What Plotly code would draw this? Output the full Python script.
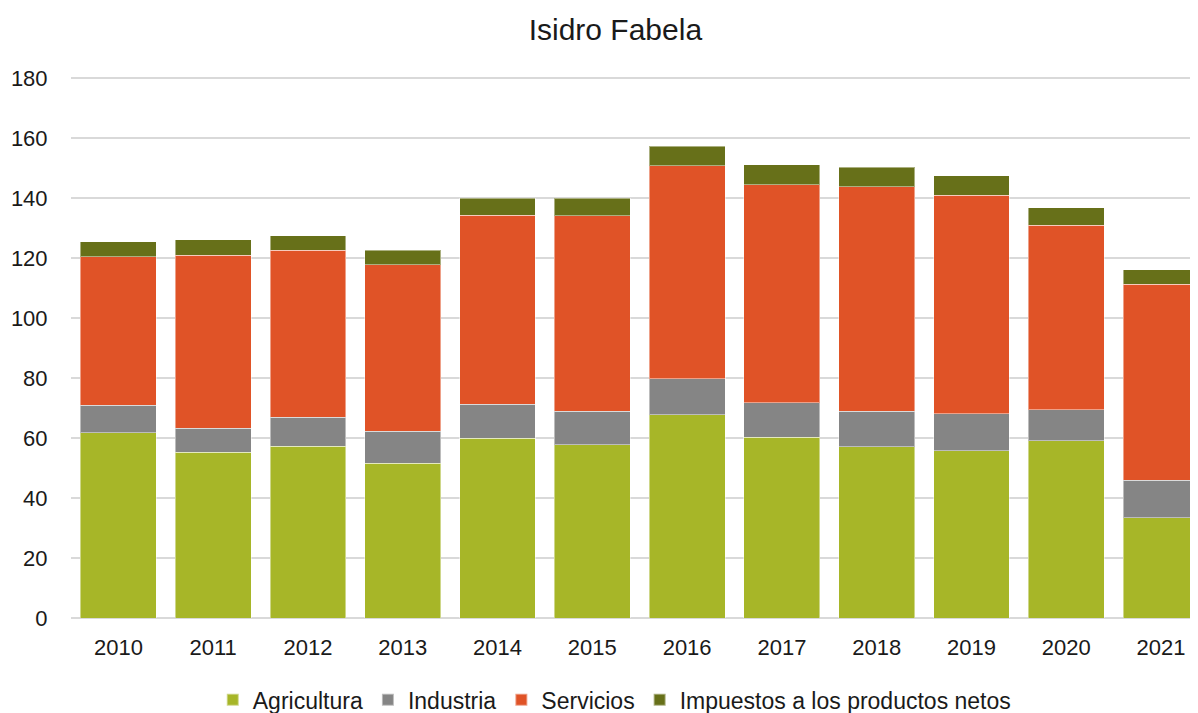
import plotly.graph_objects as go

years = ["2010", "2011", "2012", "2013", "2014", "2015", "2016", "2017", "2018", "2019", "2020", "2021"]
agricultura = [61.7, 55.3, 57.2, 51.6, 59.9, 57.8, 67.7, 60.3, 57.1, 55.8, 59.1, 33.4]
industria = [9.3, 8.0, 9.7, 10.7, 11.4, 11.2, 12.1, 11.5, 11.9, 12.3, 10.3, 12.6]
servicios = [49.5, 57.7, 55.7, 55.4, 63.0, 65.1, 70.9, 72.6, 74.7, 72.9, 61.6, 65.3]
impuestos = [5.0, 5.1, 4.8, 4.9, 5.7, 5.8, 6.6, 6.7, 6.6, 6.4, 5.8, 4.8]

series = [
    ("Agricultura", agricultura, "#A7B628"),
    ("Industria", industria, "#858585"),
    ("Servicios", servicios, "#E05327"),
    ("Impuestos a los productos netos", impuestos, "#677019"),
]

fig = go.Figure()
for name, vals, col in series:
    fig.add_trace(go.Bar(
        x=years, y=vals, name=name,
        marker=dict(color=col, line=dict(color="rgba(255,255,255,0.45)", width=1)),
    ))

font_family = "Liberation Sans, Arial, sans-serif"
fig.update_layout(
    barmode="stack",
    bargap=0.2,
    width=1198, height=713,
    margin=dict(l=63, r=8, t=64, b=103, autoexpand=False),
    paper_bgcolor="white", plot_bgcolor="white",
    font=dict(family=font_family, size=22, color="#1a1a1a"),
    title=dict(text="Isidro Fabela", x=0.507, xanchor="center", y=0.970, yanchor="middle",
               font=dict(size=30, color="#1a1a1a")),
    legend=dict(orientation="h", x=0.4825, xanchor="center", y=-0.150, yanchor="middle",
                font=dict(size=23, color="#1a1a1a"), traceorder="normal",
                itemwidth=30, itemsizing="constant"),
    xaxis=dict(range=[-0.5, 11.39], showgrid=False, showline=False, ticks="outside",
               ticklen=10, tickcolor="rgba(0,0,0,0)", tickfont=dict(size=22)),
    yaxis=dict(range=[0, 182], tickvals=[0, 20, 40, 60, 80, 100, 120, 140, 160, 180],
               showgrid=True, gridcolor="#d9d9d9", gridwidth=1.5,
               zeroline=True, zerolinecolor="#d9d9d9", zerolinewidth=1.5, showline=False,
               ticks="outside", ticklen=18, tickcolor="rgba(0,0,0,0)", tickfont=dict(size=22)),
)

fig.write_html("out.html")
